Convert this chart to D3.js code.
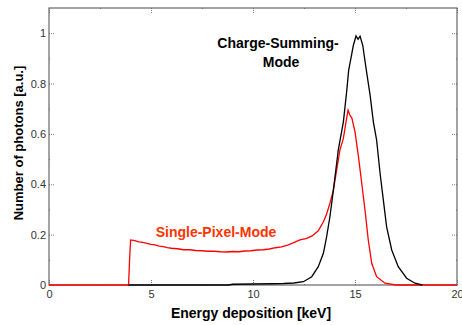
<!DOCTYPE html>
<html>
<head>
<meta charset="utf-8">
<script src="https://cdn.jsdelivr.net/npm/d3@7"></script>
<style>
  body { margin: 0; background: #fff; }
  text { font-family: "Liberation Sans", Arial, sans-serif; }
</style>
</head>
<body>
<div id="graph"></div>
<script>
// energy [keV], photons [a.u.]
const singlePixelE = [0, 3.9, 3.95, 4.0, 4.2, 4.4, 4.6, 4.8, 5.0, 5.2, 5.4, 5.6, 5.8, 6.0, 6.3, 6.6, 6.9, 7.2, 7.5, 7.8, 8.1, 8.4, 8.7, 9.0, 9.3, 9.6, 9.9, 10.2, 10.5, 10.8, 11.1, 11.4, 11.7, 12.0, 12.3, 12.6, 12.9, 13.2, 13.45, 13.6, 13.77, 13.94, 14.1, 14.26, 14.43, 14.56, 14.66, 14.75, 14.85, 15.0, 15.16, 15.33, 15.49, 15.65, 15.82, 16.06, 16.47, 17.0, 20];
const singlePixelN = [0, 0, 0.1, 0.179, 0.176, 0.171, 0.169, 0.165, 0.161, 0.159, 0.154, 0.152, 0.148, 0.146, 0.144, 0.140, 0.140, 0.137, 0.136, 0.134, 0.134, 0.132, 0.131, 0.133, 0.132, 0.135, 0.136, 0.139, 0.140, 0.143, 0.148, 0.151, 0.158, 0.168, 0.179, 0.184, 0.195, 0.215, 0.251, 0.28, 0.324, 0.377, 0.456, 0.536, 0.582, 0.648, 0.694, 0.675, 0.662, 0.608, 0.516, 0.404, 0.298, 0.179, 0.086, 0.033, 0.007, 0, 0];

const chargeSumE = [3.9, 8.8, 9.0, 10.0, 11.0, 11.5, 12.0, 12.47, 12.88, 13.2, 13.45, 13.61, 13.77, 13.94, 14.18, 14.43, 14.59, 14.69, 14.8, 14.92, 15.05, 15.15, 15.25, 15.38, 15.54, 15.74, 15.9, 16.06, 16.23, 16.39, 16.55, 16.8, 17.12, 17.53, 17.94, 18.3];
const chargeSumN = [0, 0, 0.003, 0.004, 0.005, 0.006, 0.008, 0.013, 0.033, 0.073, 0.126, 0.192, 0.271, 0.377, 0.536, 0.648, 0.767, 0.853, 0.90, 0.952, 0.989, 0.976, 0.988, 0.952, 0.861, 0.754, 0.648, 0.575, 0.443, 0.337, 0.231, 0.139, 0.073, 0.027, 0.007, 0];

const xTicks = [0, 5, 10, 15, 20];
const xMinor = [2.5, 7.5, 12.5, 17.5];
const yTicks = [0, 0.2, 0.4, 0.6, 0.8, 1];
const yMinor = [0.1, 0.3, 0.5, 0.7, 0.9];

const w = 462, h = 325;
const svg = d3.select("#graph").append("svg")
    .attr("width", w)
    .attr("height", h);

const x = d3.scaleLinear().domain([0, 20]).range([49, 457]);
const y = d3.scaleLinear().domain([0, 1.1]).range([285, 8]);

// dotted tick marks on all four sides, matlab style
function styleTicks(g) {
    g.select(".domain").remove();
    g.selectAll(".tick line")
        .attr("stroke", "#777")
        .attr("stroke-dasharray", "1,1");
    g.selectAll(".tick text")
        .attr("fill", "#333")
        .style("font-size", "11px");
}

svg.append("g").attr("transform", "translate(0,285)")
    .call(d3.axisBottom(x).tickValues(xTicks).tickFormat(d3.format("d")).tickSizeInner(-5).tickSizeOuter(0).tickPadding(5))
    .call(styleTicks);
svg.append("g").attr("transform", "translate(0,8)")
    .call(d3.axisTop(x).tickValues(xTicks).tickFormat("").tickSizeInner(-5).tickSizeOuter(0))
    .call(styleTicks);
svg.append("g").attr("transform", "translate(49,0)")
    .call(d3.axisLeft(y).tickValues(yTicks).tickFormat(d => d === 0 ? "0" : d3.format("")(d)).tickSizeInner(-6).tickSizeOuter(0).tickPadding(3))
    .call(styleTicks);
svg.append("g").attr("transform", "translate(457,0)")
    .call(d3.axisRight(y).tickValues(yTicks).tickFormat("").tickSizeInner(-6).tickSizeOuter(0))
    .call(styleTicks);

// minor ticks
svg.append("g").attr("transform", "translate(0,285)")
    .call(d3.axisBottom(x).tickValues(xMinor).tickFormat("").tickSizeInner(-2).tickSizeOuter(0)).call(styleTicks);
svg.append("g").attr("transform", "translate(0,8)")
    .call(d3.axisTop(x).tickValues(xMinor).tickFormat("").tickSizeInner(-2).tickSizeOuter(0)).call(styleTicks);
svg.append("g").attr("transform", "translate(49,0)")
    .call(d3.axisLeft(y).tickValues(yMinor).tickFormat("").tickSizeInner(-2).tickSizeOuter(0)).call(styleTicks);
svg.append("g").attr("transform", "translate(457,0)")
    .call(d3.axisRight(y).tickValues(yMinor).tickFormat("").tickSizeInner(-2).tickSizeOuter(0)).call(styleTicks);

// frame
svg.append("rect")
    .attr("x", x(0)).attr("y", y(1.1))
    .attr("width", x(20) - x(0)).attr("height", y(0) - y(1.1))
    .attr("fill", "none")
    .attr("stroke", "#666")
    .attr("stroke-width", 1.2);

const line = d3.line()
    .x(d => x(d[0]))
    .y(d => y(d[1]));

svg.append("path")
    .datum(d3.zip(singlePixelE, singlePixelN))
    .attr("d", line)
    .attr("fill", "none")
    .attr("stroke", "#ff0000")
    .attr("stroke-width", 1.3);

svg.append("path")
    .datum(d3.zip(chargeSumE, chargeSumN))
    .attr("d", line)
    .attr("fill", "none")
    .attr("stroke", "#000")
    .attr("stroke-width", 1.3);

// labels
svg.append("text")
    .attr("x", 278).attr("y", 48)
    .attr("text-anchor", "middle")
    .style("font-size", "14px").style("font-weight", "bold")
    .text("Charge-Summing-");
svg.append("text")
    .attr("x", 281).attr("y", 67)
    .attr("text-anchor", "middle")
    .style("font-size", "14px").style("font-weight", "bold")
    .text("Mode");
svg.append("text")
    .attr("x", 216).attr("y", 237)
    .attr("text-anchor", "middle")
    .attr("fill", "#ff3300")
    .style("font-size", "14px").style("font-weight", "bold")
    .text("Single-Pixel-Mode");

svg.append("text")
    .attr("x", 251).attr("y", 318)
    .attr("text-anchor", "middle")
    .style("font-size", "14px").style("font-weight", "bold")
    .text("Energy deposition [keV]");
svg.append("text")
    .attr("transform", "translate(23,143) rotate(-90)")
    .attr("text-anchor", "middle")
    .style("font-size", "13px").style("font-weight", "bold")
    .text("Number of photons [a.u.]");
</script>
</body>
</html>
